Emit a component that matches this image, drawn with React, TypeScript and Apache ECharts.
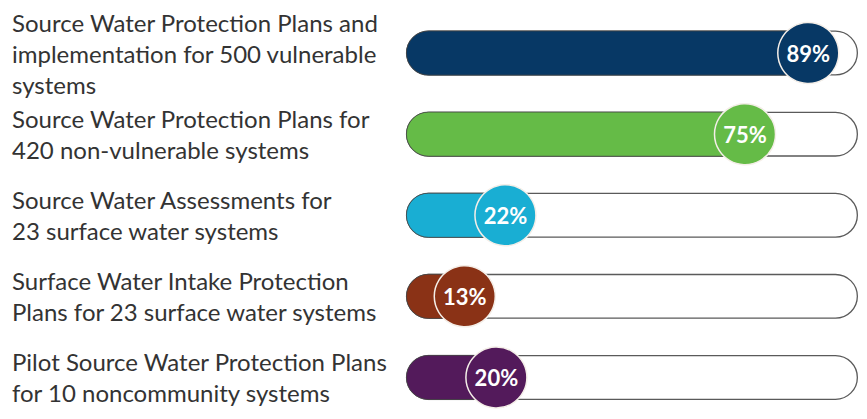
import React, { useEffect, useRef } from "react";
import * as echarts from "echarts";

const categories = [
  "Source Water Protection Plans and\nimplementation for 500 vulnerable\nsystems",
  "Source Water Protection Plans for\n420 non-vulnerable systems",
  "Source Water Assessments for\n23 surface water systems",
  "Surface Water Intake Protection\nPlans for 23 surface water systems",
  "Pilot Source Water Protection Plans\nfor 10 noncommunity systems",
];
const values = [89, 75, 22, 13, 20];
const colors = ["#073865", "#65bb47", "#19aed3", "#8a3216", "#531a5b"];
const trackMax = 100;

export default function App() {
  const ref = useRef<HTMLDivElement>(null);
  useEffect(() => {
    if (!ref.current) return;
    const chart = echarts.init(ref.current, undefined, { renderer: "svg" });
    chart.setOption({
      animation: false,
      backgroundColor: "#ffffff",
      grid: { left: 406, right: 9, top: 8, bottom: 1, containLabel: false },
      xAxis: { type: "value", min: 0, max: trackMax, show: false },
      yAxis: {
        type: "category",
        data: categories,
        inverse: true,
        axisLine: { show: false },
        axisTick: { show: false },
        splitLine: { show: false },
        axisLabel: {
          interval: 0,
          align: "left",
          margin: 394,
          fontSize: 24,
          lineHeight: 31,
          color: "#333333",
          fontFamily: "Lato",
          padding: [14, 0, 0, 0],
        },
      },
      series: [
        {
          type: "bar",
          data: categories.map(() => trackMax),
          barWidth: 45,
          silent: true,
          itemStyle: {
            color: "#ffffff",
            borderColor: "#5a5a5a",
            borderWidth: 1.3,
            borderRadius: 22.5,
          },
          z: 1,
        },
        {
          type: "bar",
          data: values.map((v, i) => ({ value: v, itemStyle: { color: colors[i] } })),
          barWidth: 45,
          barGap: "-100%",
          itemStyle: { borderRadius: 22.5, borderColor: "#444", borderWidth: 0.8 },
          z: 2,
        },
        {
          type: "scatter",
          data: values.map((v, i) => ({
            value: [v, i],
            itemStyle: { color: colors[i] },
          })),
          symbol: "circle",
          symbolSize: 61,
          itemStyle: { borderColor: "#f4eee8", borderWidth: 1.5, opacity: 1 },
          label: {
            show: true,
            position: "inside",
            formatter: (p: any) => p.value[0] + "%",
            color: "#ffffff",
            fontFamily: "Lato",
            fontWeight: "bold",
            fontSize: 22,
          },
          z: 3,
        },
      ],
    });
    return () => chart.dispose();
  }, []);
  return (
    <div
      ref={ref}
      style={{ position: "absolute", left: 0, top: 0, width: 867, height: 419 }}
    />
  );
}
